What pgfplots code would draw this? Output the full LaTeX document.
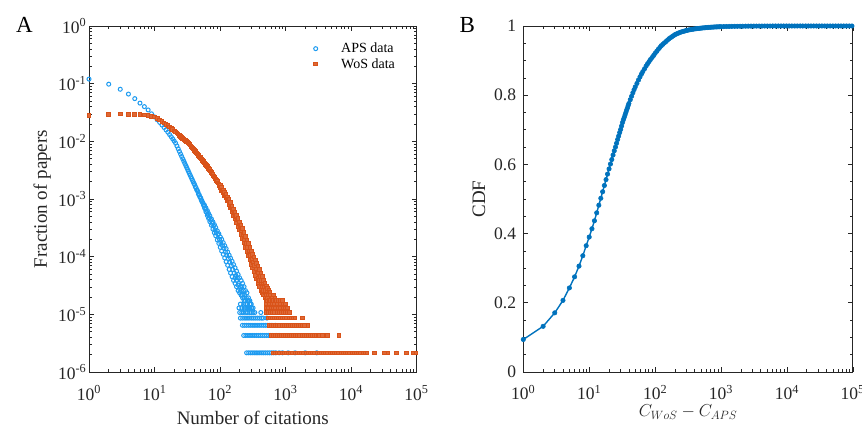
\documentclass[border=0pt]{standalone}
\usepackage{fontspec}
\setmainfont{Liberation Serif}
\usepackage{pgfplots}
\pgfplotsset{compat=1.18}
\definecolor{apsblue}{RGB}{30,155,240}
\definecolor{wosorange}{RGB}{217,83,25}
\definecolor{cdfblue}{RGB}{0,114,189}
\definecolor{axgray}{RGB}{38,38,38}
\pgfplotsset{
 panel/.style={
  scale only axis, height=346pt,
  axis line style={axgray, line width=0.8pt},
  tick style={axgray, line width=0.6pt},
  major tick length=5pt, minor tick length=3pt,
  tick align=inside,
  tick label style={font=\fontsize{17.5}{17.5}\selectfont, text=axgray},
  xticklabel style={anchor=base, inner sep=0pt, yshift=-28pt},
  yticklabel style={anchor=east, inner sep=0pt},
  label style={font=\fontsize{19}{19}\selectfont, text=axgray},
  xlabel style={at={(axis description cs:0.5,-0.1503)}, anchor=base},
  clip=false,
 }
}
\begin{document}
\begin{tikzpicture}
\useasboundingbox (0,0) rectangle (862pt,427pt);
\node[anchor=base west, inner sep=0pt, font=\fontsize{23}{23}\selectfont] at (16pt,394.3pt) {A};
\node[anchor=base west, inner sep=0pt, font=\fontsize{23}{23}\selectfont] at (459.3pt,394.7pt) {B};
\begin{axis}[panel, at={(89pt,55pt)}, anchor=south west, width=327.5pt,
  xmode=log, ymode=log, xmin=1, xmax=1e5, ymin=1e-6, ymax=1,
  xtick={1,10,100,1000,10000,100000},
  xticklabels={10\textsuperscript{0},10\textsuperscript{1},10\textsuperscript{2},10\textsuperscript{3},10\textsuperscript{4},10\textsuperscript{5}},
  minor xtick={2,3,4,5,6,7,8,9,20,30,40,50,60,70,80,90,200,300,400,500,600,700,800,900,2000,3000,4000,5000,6000,7000,8000,9000,20000,30000,40000,50000,60000,70000,80000,90000},
  ytick={1e-6,1e-5,1e-4,1e-3,1e-2,1e-1,1},
  yticklabels={10\textsuperscript{-6},10\textsuperscript{-5},10\textsuperscript{-4},10\textsuperscript{-3},10\textsuperscript{-2},10\textsuperscript{-1},10\textsuperscript{0}},
  minor ytick={2e-6,3e-6,4e-6,5e-6,6e-6,7e-6,8e-6,9e-6,2e-5,3e-5,4e-5,5e-5,6e-5,7e-5,8e-5,9e-5,2e-4,3e-4,4e-4,5e-4,6e-4,7e-4,8e-4,9e-4,2e-3,3e-3,4e-3,5e-3,6e-3,7e-3,8e-3,9e-3,0.02,0.03,0.04,0.05,0.06,0.07,0.08,0.09,0.2,0.3,0.4,0.5,0.6,0.7,0.8,0.9},
  yticklabel style={xshift=-2.5pt},
  ylabel={Fraction of papers},
  ylabel style={at={(axis description cs:-0.129,0.5)}, anchor=base},
  xlabel={Number of citations},
  legend style={draw=none, fill=none, at={(axis description cs:0.6626,0.957)}, anchor=north west, font=\fontsize{14}{16}\selectfont, row sep=4pt, nodes={inner sep=0pt}},
  legend cell align=left,
  legend image code/.code={\draw[#1] plot coordinates {(0pt,0pt)}; \path (-6pt,0pt) (25pt,0pt);},
]
\addplot[only marks, mark=o, mark size=2pt, apsblue, line width=1pt] coordinates {
(1,0.12) (2,0.098) (3,0.080) (4,0.066) (5,0.055) (6,0.046) (7,0.040) (8,0.035) (9,0.030) (10,0.0265)
(11,0.0237) (12,0.0213) (13,0.0192) (14,0.0174) (15,0.0158) (16,0.0144) (17,0.0131) (18,0.0120) (19,0.0110) (20,0.0101)
(21,0.0093) (22,0.0083) (23,0.00742) (24,0.00668) (25,0.00603) (26,0.00546) (27,0.00497) (28,0.00454) (29,0.00416) (30,0.00382)
(31,0.00352) (32,0.00325) (33,0.00301) (34,0.00279) (35,0.0026) (36,0.00242) (37,0.00226) (38,0.00212) (39,0.00199) (40,0.00186)
(41,0.00178) (42,0.00163) (43,0.00158) (44,0.00145) (45,0.00141) (46,0.00133) (47,0.00121) (48,0.00119) (49,0.0011) (50,0.00106)
(51,0.00103) (52,0.00094) (53,0.00093) (54,0.00087) (55,0.00085) (56,0.00078) (57,0.00079)
(58,0.00070) (58,0.00078) (60,0.00066) (61,0.00060) (61,0.00070) (63,0.00059) (64,0.00052) (64,0.00063) (66,0.00054)
(67,0.00046) (67,0.00056) (69,0.00047) (70,0.000405) (70,0.00051) (72,0.00043) (74,0.00035) (74,0.00045) (76,0.00038)
(78,0.00030) (78,0.00040) (80,0.00034) (82,0.00026) (82,0.00036) (84,0.00029) (86,0.00023) (86,0.00032) (88,0.00026)
(91,0.000195) (91,0.00028) (93,0.00024) (96,0.00017) (96,0.00025) (98,0.0002) (101,0.000145) (101,0.00022) (103,0.000175)
(106,0.000125) (106,0.0002) (109,0.000155) (112,0.00011) (112,0.000175) (115,0.00014) (118,0.000095) (118,0.000155) (121,0.00012)
(124,0.000082) (124,0.000138) (127,0.000105) (131,0.000071) (131,0.00012) (134,0.000092) (138,0.00006) (138,0.000106) (141,0.00008)
(145,0.000052) (145,0.000094) (149,0.00007) (153,0.000045) (153,0.000083) (157,0.00006) (161,0.0000387) (161,0.000073) (165,0.000052)
(170,0.0000344) (170,0.000064) (170,0.000043) (175,0.000047) (179,0.0000301) (179,0.000056) (179,0.0000387) (184,0.000043)
(189,0.0000258) (189,0.000049) (189,0.0000322) (194,0.0000344) (199,0.00002365) (199,0.000043) (199,0.00002795) (205,0.0000301)
(210,0.0000215) (210,0.0000387) (210,0.0000258) (216,0.0000301) (221,0.00001935) (221,0.0000344) (221,0.0000215) (227,0.0000258)
(233,0.0000172) (233,0.0000301) (233,0.00001935) (239,0.0000215) (245,0.00001505) (245,0.0000258) (245,0.0000172) (252,0.00001935)
(258,0.0000129) (258,0.00002365) (258,0.00001505) (265,0.0000172) (272,0.0000129) (272,0.00001935) (272,0.0000172)
(286,0.0000172) (286,0.00001505) (300,0.0000129) (300,0.00001505) (320,0.0000129)
(205,0.00001505) (230,0.00001505) (260,0.00001505) (290,0.00001505)
(195,0.0000129) (215,0.0000129) (235,0.0000129) (255,0.0000129) (280,0.0000129) (305,0.0000129)
(200,0.00001075) (215,0.00001075) (230,0.00001075) (250,0.00001075) (265,0.00001075) (285,0.00001075) (300,0.00001075) (320,0.00001075) (340,0.00001075) (420,0.00001075)
(205,0.0000086) (222,0.0000086) (240,0.0000086) (258,0.0000086) (278,0.0000086) (300,0.0000086) (322,0.0000086) (346,0.0000086) (372,0.0000086) (400,0.0000086) (430,0.0000086) (455,0.0000086) (520,0.0000086)
(220,0.00000645) (237,0.00000645) (255,0.00000645) (275,0.00000645) (296,0.00000645) (318,0.00000645) (342,0.00000645) (368,0.00000645) (396,0.00000645) (426,0.00000645) (458,0.00000645) (492,0.00000645) (530,0.00000645) (570,0.00000645) (620,0.00000645) (700,0.00000645)
(230,0.0000043) (248,0.0000043) (267,0.0000043) (287,0.0000043) (309,0.0000043) (332,0.0000043) (357,0.0000043) (384,0.0000043) (413,0.0000043) (444,0.0000043) (478,0.0000043) (514,0.0000043) (553,0.0000043) (595,0.0000043) (640,0.0000043) (720,0.0000043) (800,0.0000043)
(255,0.00000215) (274,0.00000215) (295,0.00000215) (317,0.00000215) (341,0.00000215) (367,0.00000215) (395,0.00000215) (425,0.00000215) (457,0.00000215) (492,0.00000215) (529,0.00000215) (569,0.00000215) (612,0.00000215) (658,0.00000215) (710,0.00000215) (800,0.00000215) (900,0.00000215) (1100,0.00000215) (1400,0.00000215) (2000,0.00000215) (3000,0.00000215)
};
\addlegendentry{APS data}
\addplot[only marks, mark=square*, mark size=1.8pt, wosorange, line width=1pt, mark options={fill=wosorange!88!white}] coordinates {
(1,0.0280) (2,0.0292) (3,0.0296) (4,0.0291) (5,0.0295) (6,0.0290) (7,0.0285) (8,0.0280) (9,0.0272) (10,0.0263)
(11,0.0248) (12,0.0234) (13,0.0221) (14,0.0209) (15,0.0197) (16,0.0186) (17,0.0177) (18,0.0168) (19,0.0160) (20,0.0152)
(21,0.0145) (22,0.0139) (23,0.0133) (24,0.0127) (25,0.0122) (26,0.0117) (27,0.0113) (28,0.0109) (29,0.0106) (30,0.0103)
(31,0.0100) (32,0.0097) (33,0.0094) (34,0.00902) (35,0.00865) (36,0.0083) (37,0.00798) (38,0.00769) (39,0.00741) (40,0.00715)
(41,0.0069) (42,0.00667) (43,0.00645) (44,0.00624) (45,0.00604) (46,0.00585) (47,0.00567) (48,0.0055) (49,0.00535) (50,0.0052)
(51,0.00505) (52,0.00491) (53,0.00478) (54,0.00465) (55,0.00453) (56,0.00442) (57,0.0043) (58,0.0042) (59,0.0041) (60,0.004)
(61,0.00391) (62,0.00382) (63,0.00373) (64,0.00365) (65,0.00357) (66,0.0035) (67,0.00342) (68,0.00335) (69,0.00328) (70,0.00321)
(72,0.00305) (74,0.00291) (76,0.00277) (78,0.00264) (80,0.00252) (82,0.00241) (84,0.00231) (86,0.00221) (88,0.0021)
(91,0.00199) (93,0.0019) (96,0.0018) (98,0.00172)
(101,0.00155) (101,0.00172) (103,0.00157) (106,0.00142) (106,0.00158) (109,0.00143) (112,0.00127) (112,0.00143) (115,0.00129)
(118,0.00115) (118,0.00131) (121,0.00118) (124,0.00104) (124,0.0012) (127,0.00107) (131,0.00093) (131,0.00109) (134,0.00097)
(138,0.00081) (138,0.00097) (141,0.00086) (145,0.0007) (145,0.00086) (149,0.00074) (153,0.0006) (153,0.00075) (157,0.00066)
(161,0.00052) (161,0.00067) (165,0.00057) (170,0.00045) (170,0.00059) (174,0.0005) (179,0.00039) (179,0.00052) (184,0.00044)
(189,0.00033) (189,0.00046) (194,0.00037) (199,0.00029) (199,0.0004) (204,0.00033) (210,0.00024) (210,0.00035) (215,0.00028)
(221,0.000205) (221,0.000305) (227,0.00024) (233,0.000172) (233,0.00026) (239,0.0002) (245,0.000145) (245,0.000225) (251,0.00017)
(258,0.000122) (258,0.000195) (265,0.000145) (272,0.000102) (272,0.000168) (279,0.000125) (286,0.000088) (286,0.000145) (293,0.000106)
(300,0.000074) (300,0.000125) (307,0.00009) (315,0.000064) (315,0.00011) (322,0.000079) (330,0.000055) (330,0.000098) (338,0.00007)
(346,0.000047) (346,0.000087) (354,0.000061) (363,0.0000408) (363,0.000077) (372,0.000054) (381,0.0000344) (381,0.000069) (381,0.000043)
(390,0.000052) (400,0.0000301) (400,0.00006) (400,0.0000387) (410,0.000045) (420,0.0000258) (420,0.000052) (420,0.0000344) (430,0.000039)
(441,0.00002365) (441,0.0000452) (441,0.0000301) (452,0.0000344) (463,0.0000215) (463,0.0000387) (463,0.0000258) (474,0.0000301)
(486,0.00001935) (486,0.0000344) (486,0.00002365) (498,0.0000258) (510,0.0000172) (510,0.0000301) (510,0.0000215) (522,0.0000258)
(535,0.0000172) (535,0.00002795) (535,0.00001935) (548,0.0000215) (562,0.00001505) (562,0.0000258) (562,0.0000172) (576,0.00002365)
(590,0.00001505) (590,0.0000215) (590,0.0000172) (620,0.0000172) (620,0.0000129) (620,0.00001935) (650,0.00001505) (650,0.0000215) (650,0.0000172)
(690,0.0000129) (690,0.0000172) (690,0.00001935) (730,0.00001505) (730,0.0000172) (780,0.0000172) (830,0.00001505) (830,0.0000172) (900,0.0000172)
(510,0.00001505) (560,0.00001505) (620,0.00001505) (680,0.00001505) (750,0.00001505) (830,0.00001505) (920,0.00001505) (1000,0.00001505)
(510,0.0000129) (555,0.0000129) (600,0.0000129) (650,0.0000129) (710,0.0000129) (770,0.0000129) (840,0.0000129) (910,0.0000129) (990,0.0000129) (1080,0.0000129)
(510,0.00001075) (550,0.00001075) (590,0.00001075) (635,0.00001075) (685,0.00001075) (740,0.00001075) (800,0.00001075) (860,0.00001075) (930,0.00001075) (1000,0.00001075) (1080,0.00001075) (1150,0.00001075)
(540,0.0000086) (580,0.0000086) (625,0.0000086) (672,0.0000086) (723,0.0000086) (778,0.0000086) (837,0.0000086) (900,0.0000086) (970,0.0000086) (1044,0.0000086) (1123,0.0000086) (1208,0.0000086) (1300,0.0000086) (1400,0.0000086) (1830,0.0000086)
(570,0.00000645) (612,0.00000645) (658,0.00000645) (707,0.00000645) (760,0.00000645) (817,0.00000645) (878,0.00000645) (944,0.00000645) (1015,0.00000645) (1091,0.00000645) (1173,0.00000645) (1261,0.00000645) (1355,0.00000645) (1457,0.00000645) (1566,0.00000645) (1683,0.00000645) (1830,0.00000645) (1950,0.00000645) (2200,0.00000645)
(600,0.0000043) (645,0.0000043) (693,0.0000043) (745,0.0000043) (801,0.0000043) (861,0.0000043) (926,0.0000043) (995,0.0000043) (1070,0.0000043) (1150,0.0000043) (1236,0.0000043) (1329,0.0000043) (1429,0.0000043) (1536,0.0000043) (1651,0.0000043) (1775,0.0000043) (1908,0.0000043) (2051,0.0000043) (2205,0.0000043) (2370,0.0000043) (2548,0.0000043) (2739,0.0000043) (2945,0.0000043) (3165,0.0000043) (3300,0.0000043) (3700,0.0000043) (4400,0.0000043) (6600,0.0000043)
(645,0.00000215) (697,0.00000215) (752,0.00000215) (813,0.00000215) (878,0.00000215) (948,0.00000215) (1024,0.00000215) (1106,0.00000215) (1194,0.00000215) (1290,0.00000215) (1393,0.00000215) (1505,0.00000215) (1625,0.00000215) (1755,0.00000215) (1896,0.00000215) (2047,0.00000215) (2211,0.00000215) (2388,0.00000215) (2579,0.00000215) (2785,0.00000215) (3008,0.00000215) (3249,0.00000215) (3509,0.00000215) (3789,0.00000215) (4093,0.00000215) (4420,0.00000215) (4774,0.00000215) (5156,0.00000215) (5568,0.00000215) (6014,0.00000215) (6495,0.00000215) (7014,0.00000215) (7575,0.00000215) (8181,0.00000215) (8836,0.00000215) (9543,0.00000215) (10306,0.00000215) (11131,0.00000215) (12021,0.00000215) (12983,0.00000215) (14022,0.00000215) (15143,0.00000215) (16355,0.00000215) (17663,0.00000215) (23000,0.00000215) (32500,0.00000215) (36500,0.00000215) (49000,0.00000215) (70000,0.00000215) (88000,0.00000215) (98000,0.00000215)
};
\addlegendentry{WoS data}
\end{axis}
\begin{axis}[panel, at={(523.3pt,55pt)}, anchor=south west, width=329.5pt,
  xmode=log, xmin=1, xmax=1e5, ymin=0, ymax=1,
  xtick={1,10,100,1000,10000,100000},
  xticklabels={10\textsuperscript{0},10\textsuperscript{1},10\textsuperscript{2},10\textsuperscript{3},10\textsuperscript{4},10\textsuperscript{5}},
  minor xtick={2,3,4,5,6,7,8,9,20,30,40,50,60,70,80,90,200,300,400,500,600,700,800,900,2000,3000,4000,5000,6000,7000,8000,9000,20000,30000,40000,50000,60000,70000,80000,90000},
  ytick={0,0.2,0.4,0.6,0.8,1},
  yticklabels={0,0.2,0.4,0.6,0.8,1},
  minor y tick num=3,
  yticklabel style={xshift=-7pt},
  ylabel={CDF},
  ylabel style={at={(axis description cs:-0.116,0.5)}, anchor=base},
  xlabel={$C_{WoS}-C_{APS}$},
  xlabel style={at={(axis description cs:0.5,-0.1292)}, anchor=base, font=\fontsize{17.5}{20}\selectfont},
]
\addplot[cdfblue, line width=1.4pt, mark=*, mark size=2.2pt, mark options={fill=cdfblue, line width=0.6pt}] coordinates {
(1,0.094) (2,0.132) (3,0.171) (4,0.207) (5,0.243) (6,0.275) (7,0.306) (8,0.336) (9,0.365) (10,0.390)
(11,0.414) (12,0.437) (13,0.460) (14,0.482) (15,0.502) (16,0.521) (17,0.539) (18,0.556) (19,0.572) (20,0.587)
(21,0.601) (22,0.614) (23,0.627) (24,0.639) (25,0.650) (26,0.661) (27,0.672) (28,0.682) (29,0.692) (30,0.701)
(31,0.711) (32,0.721) (33,0.729) (34,0.736) (35,0.743) (36,0.750) (37,0.757) (38,0.763) (39,0.770) (40,0.776)
(42,0.787) (44,0.797) (46,0.807) (48,0.816) (50,0.824) (53,0.834) (56,0.844) (59,0.853) (62,0.861) (65,0.868)
(69,0.876) (73,0.884) (77,0.891) (81,0.897) (85,0.903) (90,0.909) (95,0.915) (100,0.921) (106,0.927) (112,0.933)
(118,0.938) (124,0.943) (131,0.947) (138,0.951) (146,0.955) (154,0.959) (162,0.963) (171,0.966) (180,0.969) (190,0.972)
(200,0.975) (211,0.977) (223,0.979) (235,0.981) (248,0.9825) (262,0.984) (276,0.985) (291,0.9864) (307,0.9875) (324,0.9885)
(342,0.9894) (361,0.9902) (381,0.9909) (402,0.9916) (424,0.9922) (447,0.9928) (472,0.9933) (498,0.9938) (525,0.9943) (554,0.9948)
(585,0.9952) (617,0.9956) (651,0.996) (687,0.9963) (725,0.9966) (765,0.9969) (807,0.9972) (851,0.9974) (898,0.9976) (947,0.9978)
(1000,0.998) (1100,0.9983) (1210,0.9985) (1330,0.9987) (1460,0.9989) (1610,0.999) (1770,0.9991) (1950,0.9992) (2140,0.9993) (2360,0.9994)
(2590,0.9995) (2850,0.9996) (3140,0.9997) (3450,0.9997) (3800,0.9998) (4180,0.9998) (4590,0.9999) (5050,0.9999) (5560,0.9999) (6110,1)
(6720,1) (7400,1) (8140,1) (8950,1) (9850,1) (10800,1) (11900,1) (13100,1) (14400,1) (15900,1)
(17400,1) (19200,1) (21100,1) (23200,1) (25500,1) (28100,1) (30900,1) (34000,1) (37400,1) (41100,1)
(45200,1) (49800,1) (54700,1) (60200,1) (66200,1) (72900,1) (80200,1) (88200,1) (97000,1)
};
\end{axis}
\end{tikzpicture}
\end{document}
